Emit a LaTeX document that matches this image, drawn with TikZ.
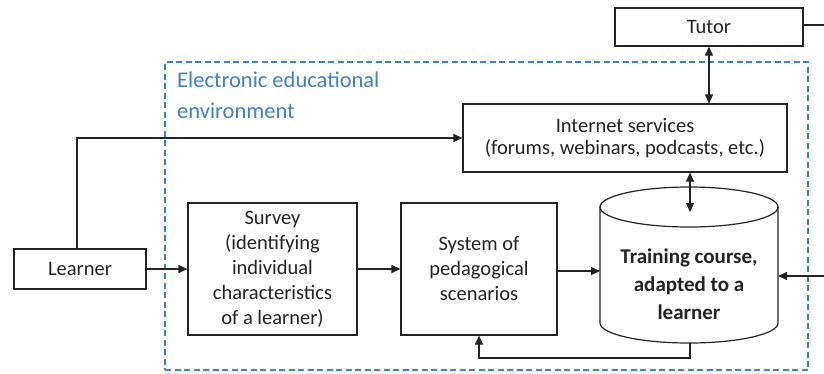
\documentclass[tikz,border=0pt]{standalone}
\usepackage{fontspec}
\setmainfont{Carlito}
\usetikzlibrary{arrows.meta}
\definecolor{envblue}{RGB}{64,128,196}
\definecolor{ink}{RGB}{35,35,35}
\tikzset{
  box/.style={draw=ink, line width=1.2pt, fill=white, inner sep=0pt, align=center,
    text=ink, font=\fontsize{20.5}{25}\selectfont},
  link/.style={draw=ink, line width=1.2pt},
  tip/.style={link, -{Triangle[length=9pt,width=8pt]}},
  both/.style={link, {Triangle[length=9pt,width=8pt]}-{Triangle[length=9pt,width=8pt]}},
}
\begin{document}
\begin{tikzpicture}[x=1pt,y=-1pt]
\useasboundingbox (0,0) rectangle (824,373);

% electronic educational environment
\node[draw=envblue, dashed, dash pattern=on 6pt off 3.5pt, line width=1.1pt,
      minimum width=643pt, minimum height=308pt, inner sep=0pt] (env) at (486.5,216) {};
\node[anchor=north west, align=left, text=envblue, inner sep=0pt,
      font=\fontsize{22.5}{31}\selectfont] (envlabel) at (177,72)
      {Electronic educational\\environment};

% boxes
\node[box, minimum width=188pt, minimum height=38pt] (tutor) at (709,27) {Tutor};
\node[box, minimum width=324pt, minimum height=68pt,
      font=\fontsize{20.5}{22}\selectfont] (inet) at (625,138)
      {Internet services\\(forums, webinars, podcasts, etc.)};
\node[box, minimum width=132pt, minimum height=40pt] (learner) at (80,269) {Learner};
\node[box, minimum width=169pt, minimum height=132pt] (survey) at (272.5,269)
      {Survey\\(identifying\\individual\\characteristics\\of a learner)};
\node[box, minimum width=156pt, minimum height=132pt] (system) at (479,269)
      {System of\\pedagogical\\scenarios};

% training course cylinder
\draw[link, fill=white] (600,207) -- (600,323)
      arc[start angle=180, end angle=360, x radius=89pt, y radius=20pt]
      -- (778,207);
\draw[link] (689,207) ellipse[x radius=89pt, y radius=20pt];
\node[align=center, text=ink, inner sep=0pt,
      font=\bfseries\fontsize{21}{28}\selectfont] (course) at (689,284)
      {Training course,\\adapted to a\\learner};
\coordinate (cylW) at (600,271);
\coordinate (cylE) at (778,276);
\coordinate (cylTop) at (690,212);
\coordinate (cylBot) at (690,343);

% outside links
\coordinate (tutorOut) at (824,25);
\coordinate (courseIn) at (824,276);
\draw[link] (tutor.east |- tutorOut) -- (tutorOut);
\draw[tip] (courseIn) -- (cylE);

% connectors
\draw[both] (tutor.south) -- (tutor.south |- inet.north);
\draw[both] (inet.south -| cylTop) -- (cylTop);
\draw[tip] ([xshift=-3pt]learner.north) |- (inet.west);
\draw[tip] (learner.east) -- (survey.west);
\draw[tip] (survey.east) -- (system.west);
\draw[tip] (system.east |- cylW) -- (cylW);
\draw[tip] (cylBot) -- (690,358) -| (system.south);
\end{tikzpicture}
\end{document}
